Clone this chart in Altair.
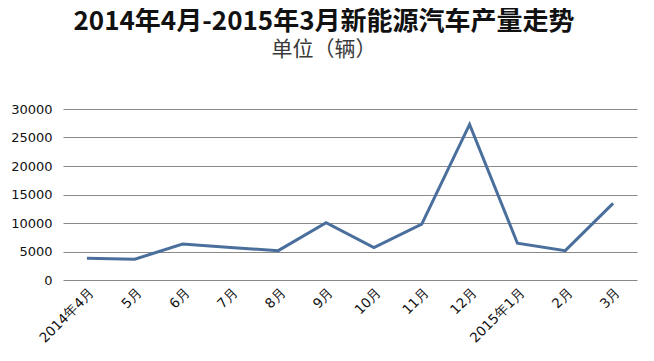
import altair as alt
import pandas as pd

months = ["2014年4月", "5月", "6月", "7月", "8月", "9月", "10月", "11月", "12月",
          "2015年1月", "2月", "3月"]
output = [3800, 3650, 6300, 5700, 5150, 10050, 5700, 9800, 27300, 6450, 5150, 13450]
y_ticks = [0, 5000, 10000, 15000, 20000, 25000, 30000]

df = pd.DataFrame({"month": months, "output": output})

chart = alt.Chart(df).mark_line(color="#4A6F9C", strokeWidth=3).encode(
    x=alt.X("month:N", sort=months, title=None,
            scale=alt.Scale(paddingInner=0, paddingOuter=0.5),
            axis=alt.Axis(labelAngle=-45, labelFontSize=13.5, labelColor="#111",
                          labelFont="DejaVu Sans", ticks=False, domain=False,
                          grid=False, labelPadding=5)),
    y=alt.Y("output:Q", title=None,
            scale=alt.Scale(domain=[0, 30000], nice=False),
            axis=alt.Axis(values=y_ticks, labelFontSize=13, labelColor="#111",
                          labelFont="DejaVu Sans", ticks=False, domain=False,
                          grid=True, gridColor="#8a8a8a", gridWidth=1.2,
                          labelPadding=11, format="d")),
).properties(
    width=574, height=171,
    title=alt.TitleParams(
        text="2014年4月-2015年3月新能源汽车产量走势",
        subtitle="单位（辆）",
        font="Noto Sans CJK SC", fontSize=26, fontWeight="bold", color="#111",
        subtitleFont="Noto Sans CJK SC", subtitleFontSize=21, subtitleColor="#3a3a3a",
        subtitlePadding=4, anchor="middle", dx=-26, offset=43,
    ),
    autosize=alt.AutoSizeParams(type="none"),
    padding={"left": 55, "top": 101, "right": 9, "bottom": 73},
).configure_view(stroke=None)

chart.save("out.html", embed_options={"renderer": "svg", "actions": False})
